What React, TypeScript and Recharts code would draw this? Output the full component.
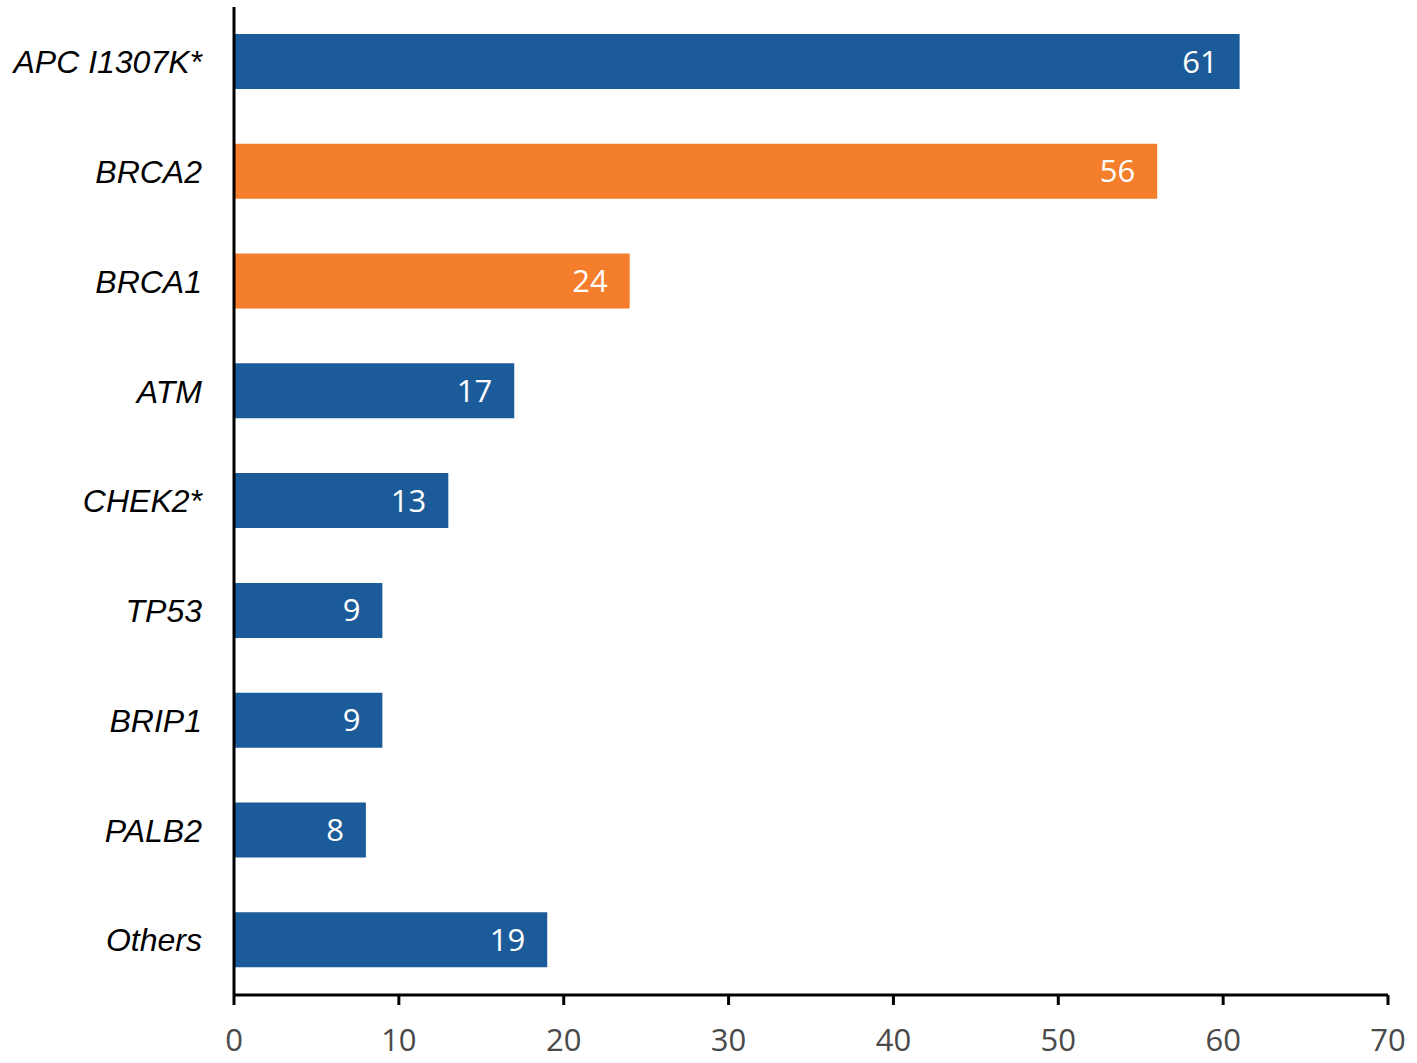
import { BarChart, Bar, XAxis, YAxis, Cell, LabelList } from "recharts";

/* ── Data ─────────────────────────────────────────────────────── */
const genes = ["APC I1307K*", "BRCA2", "BRCA1", "ATM", "CHEK2*", "TP53", "BRIP1", "PALB2", "Others"];
const counts = [61, 56, 24, 17, 13, 9, 9, 8, 19];
const highlighted = ["BRCA2", "BRCA1"];
const xTicks = [0, 10, 20, 30, 40, 50, 60, 70];

const BLUE = "#1c5b99";
const ORANGE = "#f47e2c";

const data = genes.map((name, i) => ({ name, value: counts[i] }));

export default function App() {
  return (
    <div style={{ position: "absolute", left: 0, top: 0, background: "#fff" }}>
      <BarChart
        width={1417}
        height={1063}
        data={data}
        layout="vertical"
        margin={{ top: 7, right: 29, bottom: 28, left: 0 }}
      >
        <XAxis
          type="number"
          domain={[0, 70]}
          ticks={xTicks}
          interval={0}
          height={40}
          axisLine={{ stroke: "#000", strokeWidth: 3 }}
          tickLine={{ stroke: "#000", strokeWidth: 3 }}
          tickSize={10}
          tickMargin={24}
          tick={{ fill: "#4a4a4a", fontSize: 31, fontFamily: "Open Sans" }}
        />
        <YAxis
          type="category"
          dataKey="name"
          width={234}
          axisLine={{ stroke: "#000", strokeWidth: 3 }}
          tickLine={false}
          tickSize={6}
          tickMargin={26}
          interval={0}
          tick={{ fill: "#000", fontSize: 32, fontFamily: "Liberation Sans", fontStyle: "italic" }}
        />
        <Bar dataKey="value" barSize={55} isAnimationActive={false}>
          {data.map((d, i) => (
            <Cell key={i} fill={highlighted.includes(d.name) ? ORANGE : BLUE} />
          ))}
          <LabelList
            dataKey="value"
            position="insideRight"
            offset={22}
            fill="#fff"
            fontSize={31}
            fontFamily="Open Sans"
          />
        </Bar>
      </BarChart>
    </div>
  );
}
